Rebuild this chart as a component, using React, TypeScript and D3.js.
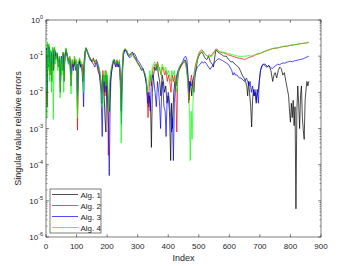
import React, { useEffect, useRef } from 'react';
import * as d3 from 'd3';

// [index, relative error]
const alg1: [number, number][] = [
  [0, 0.02], [2, 0.15], [4, 0.004], [6, 0.2], [8, 0.05], [10, 0.18], [13, 0.03], [16, 0.12], [19, 0.02], [22, 0.16],
  [25, 0.04], [28, 0.17], [32, 0.08], [36, 0.12], [40, 0.05], [44, 0.09], [47, 0.01], [50, 0.08], [53, 0.04], [56, 0.12],
  [59, 0.02], [62, 0.1], [66, 0.16], [70, 0.1], [74, 0.07], [78, 0.09], [82, 0.015], [86, 0.07], [90, 0.05], [94, 0.08],
  [98, 0.04], [101, 0.06], [103, 0.003], [106, 0.06], [110, 0.08], [114, 0.05], [118, 0.06], [121, 0.02], [124, 0.05],
  [127, 0.12], [131, 0.17], [135, 0.14], [140, 0.1], [145, 0.09], [150, 0.07], [155, 0.08], [160, 0.07], [165, 0.08],
  [170, 0.06], [175, 0.04], [180, 0.02], [183, 0.005], [186, 0.03], [190, 0.01], [193, 0.002], [196, 0.0008], [199, 0.03],
  [202, 0.01], [205, 0.004], [208, 0.003], [211, 0.02], [215, 0.04], [220, 0.07], [224, 0.08], [228, 0.06], [232, 0.07],
  [236, 0.05], [240, 0.07], [243, 0.02], [246, 0.003], [249, 0.03], [253, 0.12], [258, 0.15], [263, 0.14], [268, 0.11],
  [273, 0.1], [278, 0.12], [283, 0.13], [288, 0.1], [293, 0.09], [298, 0.07], [303, 0.06], [308, 0.05], [313, 0.04],
  [318, 0.045], [323, 0.03], [328, 0.02], [333, 0.01], [336, 0.004], [339, 0.008], [342, 0.005], [345, 0.0003], [348, 0.01],
  [352, 0.03], [356, 0.05], [360, 0.04], [364, 0.06], [368, 0.03], [372, 0.02], [376, 0.008], [380, 0.03], [384, 0.02],
  [388, 0.01], [392, 0.015], [396, 0.005], [400, 0.008], [404, 0.003], [408, 0.00013], [411, 0.005], [414, 0.001],
  [418, 0.01], [422, 0.02], [426, 0.015], [430, 0.03], [435, 0.04], [440, 0.05], [445, 0.06], [450, 0.07], [455, 0.08],
  [460, 0.06], [465, 0.02], [468, 0.006], [471, 0.02], [474, 0.015], [477, 0.008], [480, 0.02], [484, 0.01], [488, 0.03],
  [492, 0.05], [496, 0.08], [500, 0.1], [505, 0.12], [510, 0.13], [515, 0.11], [520, 0.09], [526, 0.08], [532, 0.1],
  [538, 0.07], [544, 0.06], [548, 0.05], [552, 0.09], [556, 0.15], [562, 0.13], [568, 0.12], [575, 0.11], [582, 0.1],
  [590, 0.1], [598, 0.08], [605, 0.07], [612, 0.07], [618, 0.06], [624, 0.055], [630, 0.05], [636, 0.04], [642, 0.03],
  [648, 0.025], [653, 0.02], [657, 0.015], [660, 0.008], [663, 0.02], [666, 0.01], [670, 0.004], [673, 0.0011],
  [676, 0.006], [679, 0.012], [682, 0.008], [685, 0.01], [688, 0.005], [691, 0.012], [694, 0.01], [698, 0.02],
  [702, 0.04], [706, 0.055], [712, 0.06], [718, 0.06], [724, 0.05], [730, 0.055], [736, 0.04], [742, 0.02], [746, 0.03],
  [750, 0.035], [755, 0.025], [760, 0.04], [765, 0.05], [770, 0.045], [775, 0.03], [780, 0.035], [785, 0.02], [790, 0.012],
  [794, 0.008], [797, 0.003], [800, 0.0015], [803, 0.005], [806, 0.002], [809, 0.006], [812, 0.0012], [815, 0.004],
  [818, 0.000006], [821, 0.003], [824, 0.015], [827, 0.005], [830, 0.001], [833, 0.008], [836, 0.015], [839, 0.002],
  [842, 0.0009], [845, 0.0005], [848, 0.006], [851, 0.012], [854, 0.02], [857, 0.015], [860, 0.02],
];

const alg2: [number, number][] = [
  [0, 0.03], [2, 0.16], [4, 0.006], [6, 0.22], [8, 0.06], [10, 0.19], [13, 0.04], [16, 0.13], [19, 0.03], [22, 0.17],
  [25, 0.05], [28, 0.16], [32, 0.09], [36, 0.11], [40, 0.06], [44, 0.1], [47, 0.015], [50, 0.09], [53, 0.05], [56, 0.13],
  [59, 0.03], [62, 0.11], [66, 0.15], [70, 0.1], [74, 0.08], [78, 0.1], [82, 0.02], [86, 0.08], [90, 0.05], [94, 0.09],
  [98, 0.05], [101, 0.07], [103, 0.0009], [106, 0.05], [110, 0.08], [114, 0.06], [118, 0.05], [121, 0.025], [124, 0.06],
  [127, 0.13], [131, 0.17], [135, 0.13], [140, 0.11], [145, 0.08], [150, 0.07], [155, 0.09], [160, 0.06], [165, 0.07],
  [170, 0.05], [175, 0.03], [180, 0.015], [183, 0.01], [186, 0.04], [190, 0.02], [193, 0.008], [196, 0.04], [199, 0.02],
  [202, 0.006], [204, 0.00018], [207, 0.01], [211, 0.025], [215, 0.05], [220, 0.07], [224, 0.07], [228, 0.05], [232, 0.08],
  [236, 0.06], [240, 0.07], [243, 0.03], [246, 0.006], [249, 0.04], [253, 0.13], [258, 0.16], [263, 0.15], [268, 0.12],
  [273, 0.11], [278, 0.11], [283, 0.12], [288, 0.1], [293, 0.08], [298, 0.07], [303, 0.06], [308, 0.05], [313, 0.045],
  [318, 0.04], [323, 0.035], [328, 0.02], [331, 0.008], [334, 0.002], [337, 0.01], [341, 0.03], [345, 0.015], [349, 0.04],
  [353, 0.05], [357, 0.06], [361, 0.05], [365, 0.07], [369, 0.05], [373, 0.04], [377, 0.03], [381, 0.05], [385, 0.04],
  [389, 0.03], [393, 0.04], [397, 0.02], [401, 0.03], [405, 0.02], [409, 0.01], [413, 0.03], [417, 0.02], [421, 0.03],
  [425, 0.01], [428, 0.0008], [431, 0.02], [435, 0.04], [440, 0.05], [445, 0.06], [450, 0.065], [455, 0.07], [460, 0.05],
  [464, 0.02], [467, 0.005], [470, 0.01], [473, 0.02], [476, 0.03], [480, 0.015], [484, 0.03], [488, 0.05], [492, 0.07],
  [496, 0.09], [500, 0.12], [505, 0.14], [510, 0.15], [516, 0.13], [522, 0.11], [528, 0.1], [534, 0.11], [540, 0.1],
  [546, 0.12], [552, 0.14], [558, 0.16], [564, 0.14], [570, 0.13], [578, 0.125], [586, 0.12], [594, 0.11], [602, 0.105],
  [610, 0.1], [618, 0.095], [626, 0.09], [634, 0.088], [642, 0.085], [650, 0.08], [656, 0.085], [662, 0.09],
  [670, 0.095], [678, 0.1], [686, 0.11], [694, 0.115], [702, 0.12], [710, 0.13], [720, 0.14], [730, 0.15], [740, 0.16],
  [750, 0.165], [760, 0.17], [770, 0.18], [780, 0.185], [790, 0.19], [800, 0.2], [810, 0.205], [820, 0.21],
  [830, 0.22], [840, 0.225], [850, 0.23], [860, 0.24],
];

const alg3: [number, number][] = [
  [0, 0.04], [2, 0.17], [4, 0.01], [6, 0.2], [8, 0.07], [10, 0.17], [13, 0.05], [16, 0.14], [19, 0.04], [22, 0.15],
  [25, 0.06], [28, 0.15], [32, 0.1], [36, 0.12], [40, 0.07], [44, 0.08], [47, 0.02], [50, 0.1], [53, 0.06], [56, 0.11],
  [59, 0.04], [62, 0.1], [66, 0.14], [70, 0.09], [74, 0.06], [78, 0.08], [82, 0.03], [86, 0.06], [90, 0.04], [94, 0.07],
  [98, 0.05], [101, 0.06], [103, 0.008], [106, 0.04], [110, 0.07], [114, 0.05], [118, 0.04], [121, 0.015], [123, 0.004],
  [126, 0.06], [131, 0.16], [135, 0.14], [140, 0.1], [145, 0.08], [150, 0.07], [155, 0.06], [160, 0.05], [165, 0.07],
  [170, 0.04], [175, 0.03], [180, 0.01], [184, 0.0006], [187, 0.02], [190, 0.03], [193, 0.01], [196, 0.03], [199, 0.01],
  [202, 0.005], [205, 0.001], [207, 0.00005], [210, 0.005], [213, 0.03], [217, 0.05], [221, 0.08], [225, 0.06],
  [229, 0.05], [233, 0.07], [237, 0.05], [241, 0.06], [244, 0.02], [247, 0.0013], [250, 0.03], [254, 0.11], [259, 0.15],
  [264, 0.13], [269, 0.1], [274, 0.09], [279, 0.1], [284, 0.11], [289, 0.12], [294, 0.1], [299, 0.08], [304, 0.07],
  [309, 0.06], [314, 0.05], [319, 0.04], [324, 0.03], [329, 0.015], [333, 0.005], [337, 0.01], [341, 0.003], [345, 0.02],
  [349, 0.03], [353, 0.02], [357, 0.01], [361, 0.004], [365, 0.02], [369, 0.01], [372, 0.004], [375, 0.001], [378, 0.008],
  [382, 0.02], [386, 0.004], [390, 0.003], [393, 0.0006], [396, 0.005], [400, 0.01], [404, 0.006], [408, 0.002],
  [411, 0.0008], [414, 0.002], [417, 0.00013], [420, 0.005], [424, 0.02], [428, 0.03], [432, 0.04], [437, 0.05],
  [442, 0.06], [447, 0.07], [452, 0.09], [457, 0.1], [461, 0.08], [465, 0.03], [468, 0.01], [471, 0.02], [475, 0.015],
  [479, 0.02], [483, 0.025], [487, 0.03], [491, 0.04], [495, 0.05], [500, 0.055], [505, 0.06], [510, 0.07], [515, 0.065],
  [520, 0.07], [526, 0.06], [532, 0.05], [537, 0.043], [542, 0.05], [548, 0.06], [554, 0.07], [560, 0.08], [566, 0.085],
  [572, 0.08], [578, 0.075], [584, 0.07], [590, 0.065], [596, 0.06], [602, 0.05], [608, 0.04], [612, 0.03], [616, 0.035],
  [620, 0.03], [626, 0.03], [632, 0.025], [638, 0.025], [644, 0.022], [650, 0.02], [656, 0.025], [660, 0.02],
  [664, 0.015], [668, 0.02], [672, 0.01], [676, 0.015], [680, 0.008], [684, 0.012], [688, 0.006], [692, 0.01],
  [695, 0.005], [698, 0.02], [702, 0.04], [706, 0.05], [711, 0.06], [716, 0.055], [722, 0.05], [728, 0.055], [734, 0.05],
  [740, 0.045], [746, 0.05], [752, 0.055], [758, 0.06], [764, 0.058], [770, 0.062], [776, 0.065], [782, 0.064],
  [788, 0.068], [794, 0.07], [800, 0.072], [806, 0.07], [812, 0.074], [818, 0.076], [824, 0.078], [830, 0.08],
  [836, 0.082], [842, 0.085], [848, 0.09], [854, 0.095], [860, 0.1],
];

const alg4: [number, number][] = [
  [0, 0.01], [1, 0.15], [3, 0.002], [5, 0.25], [7, 0.04], [10, 0.22], [12, 0.02], [15, 0.15], [18, 0.01], [21, 0.18],
  [24, 0.0018], [27, 0.18], [31, 0.06], [35, 0.13], [39, 0.04], [43, 0.1], [46, 0.007], [49, 0.09], [52, 0.03],
  [55, 0.13], [58, 0.01], [61, 0.1], [65, 0.17], [69, 0.11], [73, 0.06], [77, 0.1], [80, 0.03], [82, 0.009], [85, 0.08],
  [89, 0.06], [93, 0.1], [97, 0.05], [100, 0.08], [103, 0.002], [106, 0.07], [110, 0.09], [114, 0.06], [117, 0.07],
  [120, 0.03], [123, 0.01], [126, 0.07], [130, 0.17], [134, 0.15], [139, 0.11], [144, 0.09], [149, 0.08], [154, 0.07],
  [159, 0.08], [164, 0.07], [169, 0.06], [174, 0.05], [178, 0.03], [181, 0.01], [184, 0.004], [187, 0.03], [190, 0.02],
  [193, 0.04], [196, 0.015], [199, 0.035], [202, 0.02], [205, 0.003], [208, 0.02], [212, 0.04], [216, 0.06], [220, 0.08],
  [224, 0.07], [228, 0.06], [232, 0.07], [236, 0.06], [240, 0.08], [243, 0.03], [246, 0.0004], [249, 0.02], [253, 0.14],
  [258, 0.16], [263, 0.15], [268, 0.12], [273, 0.1], [278, 0.11], [283, 0.12], [288, 0.09], [293, 0.08], [298, 0.065],
  [303, 0.055], [308, 0.05], [313, 0.045], [318, 0.04], [323, 0.035], [328, 0.025], [332, 0.01], [336, 0.02],
  [340, 0.04], [344, 0.02], [348, 0.05], [352, 0.06], [356, 0.07], [360, 0.05], [364, 0.06], [368, 0.04], [372, 0.05],
  [376, 0.03], [380, 0.06], [384, 0.05], [388, 0.04], [392, 0.05], [396, 0.03], [400, 0.04], [404, 0.03], [408, 0.02],
  [412, 0.04], [416, 0.03], [420, 0.04], [424, 0.02], [428, 0.01], [432, 0.03], [436, 0.05], [441, 0.06], [446, 0.065],
  [451, 0.07], [456, 0.065], [460, 0.04], [464, 0.02], [467, 0.008], [470, 0.002], [472, 0.00013], [475, 0.003],
  [478, 0.0005], [481, 0.005], [484, 0.02], [488, 0.04], [492, 0.06], [496, 0.08], [500, 0.11], [505, 0.13], [510, 0.14],
  [516, 0.125], [522, 0.11], [528, 0.1], [534, 0.1], [540, 0.095], [546, 0.11], [552, 0.13], [558, 0.15], [564, 0.14],
  [570, 0.13], [578, 0.13], [586, 0.125], [594, 0.12], [602, 0.115], [610, 0.11], [618, 0.105], [626, 0.1], [634, 0.1],
  [642, 0.098], [650, 0.1], [656, 0.1], [662, 0.105], [670, 0.1], [678, 0.105], [686, 0.11], [694, 0.12], [702, 0.12],
  [710, 0.13], [720, 0.14], [730, 0.15], [740, 0.16], [750, 0.17], [760, 0.17], [770, 0.18], [780, 0.19], [790, 0.19],
  [800, 0.2], [810, 0.205], [820, 0.21], [830, 0.22], [840, 0.225], [850, 0.23], [860, 0.245],
];

const seriesNames = ['Alg. 1', 'Alg. 2', 'Alg. 3', 'Alg. 4'];
const seriesColors = ['#000000', '#ff0000', '#0000ff', '#00ff00'];
const xTicks = [0, 100, 200, 300, 400, 500, 600, 700, 800, 900];
const yExponents = [0, -1, -2, -3, -4, -5, -6];

function App() {
  const ref = useRef<SVGSVGElement>(null);
  const width = 354;
  const height = 266;
  const m = { left: 46, right: 33, top: 20, bottom: 29 };

  useEffect(() => {
    const svg = d3.select(ref.current);
    svg.selectAll('*').remove();

    const font = 'Liberation Sans, Arial, Helvetica, sans-serif';
    const axisColor = '#262626';
    const x = d3.scaleLinear().domain([0, 900]).range([m.left, width - m.right]);
    const y = d3.scaleLog().domain([1e-6, 1]).range([height - m.bottom, m.top]);

    svg.append('rect')
      .attr('x', m.left).attr('y', m.top)
      .attr('width', width - m.left - m.right)
      .attr('height', height - m.top - m.bottom)
      .attr('fill', '#fff');

    // lines, clipped to the axes box
    svg.append('clipPath').attr('id', 'plotclip')
      .append('rect')
      .attr('x', m.left).attr('y', m.top)
      .attr('width', width - m.left - m.right)
      .attr('height', height - m.top - m.bottom);

    const line = d3.line<[number, number]>()
      .x(d => x(d[0]))
      .y(d => y(d[1]));

    const g = svg.append('g').attr('clip-path', 'url(#plotclip)');
    [alg1, alg2, alg3, alg4].forEach((data, i) => {
      g.append('path')
        .attr('d', line(data))
        .attr('fill', 'none')
        .attr('stroke', seriesColors[i])
        .attr('stroke-width', 0.7)
        .attr('stroke-linejoin', 'round');
    });

    // box
    svg.append('rect')
      .attr('x', m.left).attr('y', m.top)
      .attr('width', width - m.left - m.right)
      .attr('height', height - m.top - m.bottom)
      .attr('fill', 'none')
      .attr('stroke', axisColor)
      .attr('stroke-width', 0.6);

    // x ticks (bottom and top, inward)
    const tk = 2.8;
    xTicks.forEach(t => {
      const px = x(t);
      svg.append('line').attr('x1', px).attr('x2', px)
        .attr('y1', height - m.bottom).attr('y2', height - m.bottom - tk)
        .attr('stroke', axisColor).attr('stroke-width', 0.6);
      svg.append('line').attr('x1', px).attr('x2', px)
        .attr('y1', m.top).attr('y2', m.top + tk)
        .attr('stroke', axisColor).attr('stroke-width', 0.6);
      svg.append('text')
        .attr('x', px).attr('y', height - m.bottom + 12)
        .attr('text-anchor', 'middle')
        .attr('font-family', font).attr('font-size', 8)
        .attr('fill', axisColor)
        .text(t);
    });

    // y ticks, major and minor on both sides
    yExponents.forEach(e => {
      const py = y(Math.pow(10, e));
      svg.append('line').attr('x1', m.left).attr('x2', m.left + tk)
        .attr('y1', py).attr('y2', py)
        .attr('stroke', axisColor).attr('stroke-width', 0.6);
      svg.append('line').attr('x1', width - m.right).attr('x2', width - m.right - tk)
        .attr('y1', py).attr('y2', py)
        .attr('stroke', axisColor).attr('stroke-width', 0.6);
      if (e > -6) {
        for (let k = 2; k <= 9; k++) {
          const py2 = y(k * Math.pow(10, e - 1));
          svg.append('line').attr('x1', m.left).attr('x2', m.left + 1.5)
            .attr('y1', py2).attr('y2', py2)
            .attr('stroke', axisColor).attr('stroke-width', 0.5);
          svg.append('line').attr('x1', width - m.right).attr('x2', width - m.right - 1.5)
            .attr('y1', py2).attr('y2', py2)
            .attr('stroke', axisColor).attr('stroke-width', 0.5);
        }
      }
      const label = svg.append('text')
        .attr('x', m.left - 3).attr('y', py + 3)
        .attr('text-anchor', 'end')
        .attr('font-family', font).attr('font-size', 8)
        .attr('fill', axisColor);
      label.append('tspan').text('10');
      label.append('tspan')
        .attr('dy', -4)
        .attr('font-size', 5.5)
        .text(e === 0 ? '0' : `-${-e}`);
    });

    // axis labels
    svg.append('text')
      .attr('x', (m.left + width - m.right) / 2).attr('y', height - 5)
      .attr('text-anchor', 'middle')
      .attr('font-family', font).attr('font-size', 9)
      .attr('fill', axisColor)
      .text('Index');

    svg.append('text')
      .attr('transform', `translate(21, ${(m.top + height - m.bottom) / 2}) rotate(-90)`)
      .attr('text-anchor', 'middle')
      .attr('font-family', font).attr('font-size', 9)
      .attr('fill', axisColor)
      .text('Singular value relative errors');

    // legend
    const lg = svg.append('g');
    lg.append('rect')
      .attr('x', 50).attr('y', 189)
      .attr('width', 51).attr('height', 44)
      .attr('fill', '#fff')
      .attr('stroke', axisColor).attr('stroke-width', 0.6);
    seriesNames.forEach((name, i) => {
      const ly = 194.5 + i * 11;
      lg.append('line')
        .attr('x1', 52).attr('x2', 78)
        .attr('y1', ly).attr('y2', ly)
        .attr('stroke', seriesColors[i]).attr('stroke-width', 0.7);
      lg.append('text')
        .attr('x', 80.5).attr('y', ly + 3)
        .attr('font-family', font).attr('font-size', 8)
        .attr('fill', axisColor)
        .text(name);
    });
  }, []);

  return (
    <svg
      ref={ref}
      width={width}
      height={height}
      style={{ position: 'absolute', left: 0, top: 0, background: '#fff' }}
    />
  );
}

export default App;
